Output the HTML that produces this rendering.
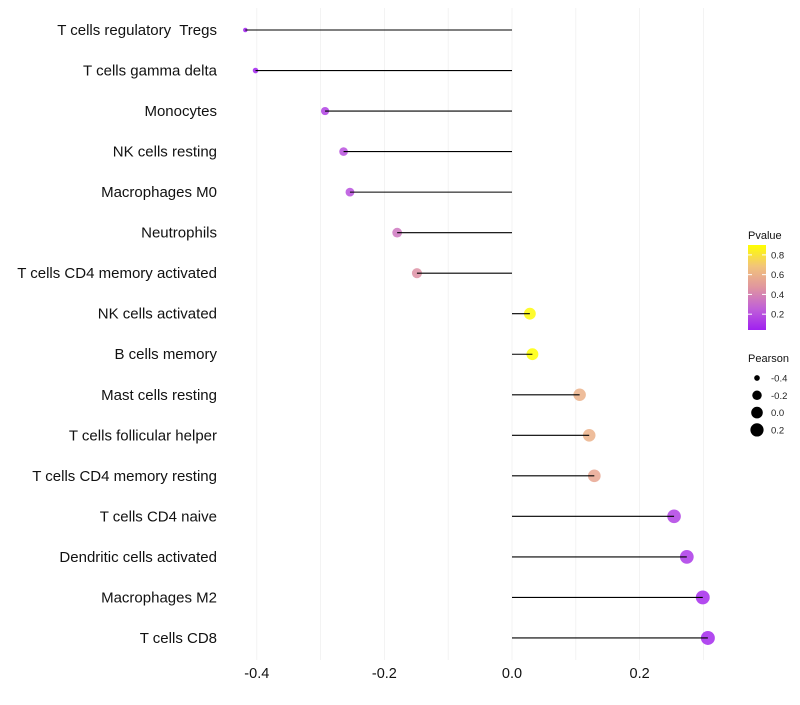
<!DOCTYPE html>
<html><head><meta charset="utf-8"><style>
body{margin:0;background:#fff;font-family:"Liberation Sans",sans-serif}
svg text{font-family:"Liberation Sans",sans-serif}
</style></head><body>
<svg id="chart" width="800" height="700" xmlns="http://www.w3.org/2000/svg">
<g id="grid"></g><g id="marks"></g><g id="labels"></g><g id="legend"></g>
</svg>
<script>
const categories=["T cells regulatory  Tregs","T cells gamma delta","Monocytes","NK cells resting","Macrophages M0","Neutrophils","T cells CD4 memory activated","NK cells activated","B cells memory","Mast cells resting","T cells follicular helper","T cells CD4 memory resting","T cells CD4 naive","Dendritic cells activated","Macrophages M2","T cells CD8"];
const pearson=[-0.418,-0.402,-0.293,-0.264,-0.254,-0.180,-0.149,0.028,0.032,0.106,0.121,0.129,0.254,0.274,0.299,0.307];
const pvalues=[0.04,0.05,0.15,0.2,0.2,0.35,0.45,0.88,0.9,0.6,0.6,0.55,0.15,0.12,0.08,0.07];
const xTicks=[-0.4,-0.2,0.0,0.2];
const xTickLabels=["-0.4","-0.2","0.0","0.2"];
const colorTicks=[0.2,0.4,0.6,0.8];
const sizeTicks=[-0.4,-0.2,0.0,0.2];

const NS="http://www.w3.org/2000/svg";
const x=v=>512+v*638;
const y=i=>30+i*40.53;
const pMin=0.04,pMax=0.9;
const stops=[[0,[160,32,240]],[0.25,[192,96,216]],[0.5,[224,149,159]],[0.75,[242,196,122]],[1,[255,255,0]]];
function col(p){let t=Math.max(0,Math.min(1,(p-pMin)/(pMax-pMin)));for(let k=1;k<stops.length;k++){if(t<=stops[k][0]){const a=stops[k-1],b=stops[k];const f=(t-a[0])/(b[0]-a[0]);const c=a[1].map((v,j)=>Math.round(v+(b[1][j]-v)*f));return `rgb(${c})`;}}return "rgb(255,255,0)";}
const sMin=-0.42,sMax=0.31;
function rad(v){const t=Math.max(0,(v-sMin)/(sMax-sMin));return 2+5*Math.sqrt(t);}
function el(tag,attrs,parent){const e=document.createElementNS(NS,tag);for(const k in attrs)e.setAttribute(k,attrs[k]);parent.appendChild(e);return e;}
const grid=document.getElementById('grid'),marks=document.getElementById('marks'),labels=document.getElementById('labels'),legend=document.getElementById('legend');
for(let v=-0.4;v<=0.31;v+=0.1){const g=el('line',{x1:x(v),x2:x(v),y1:8,y2:660,stroke:'#f0f0f0','stroke-width':0.8},grid);

}
xTicks.forEach((v,i)=>{const t=el('text',{x:x(v),y:678,'font-size':14.5,'text-anchor':'middle',fill:'#111'},labels);t.textContent=xTickLabels[i];

});
categories.forEach((c,i)=>{
const t=el('text',{x:217,y:y(i)+5,'font-size':15,'text-anchor':'end',fill:'#111'},labels);t.textContent=c;t.style.whiteSpace='pre';


const p=el('circle',{cx:x(pearson[i]),cy:y(i),r:rad(pearson[i]),fill:col(pvalues[i]),'fill-opacity':0.85},marks);


const s=el('line',{x1:x(0),x2:x(pearson[i]),y1:y(i),y2:y(i),stroke:'#000','stroke-width':1.1},marks);


});
const lt=el('text',{x:748,y:239,'font-size':11,fill:'#111'},legend);lt.textContent='Pvalue';


const defs=el('defs',{},legend);const lg=el('linearGradient',{id:'pg',x1:0,y1:1,x2:0,y2:0},defs);
stops.forEach(s=>el('stop',{offset:s[0],'stop-color':`rgb(${s[1]})`},lg));
const cb=el('rect',{x:748,y:245,width:18,height:85,fill:'url(#pg)'},legend);


const cy=p=>330-(p-pMin)/(pMax-pMin)*85;
colorTicks.forEach(p=>{el('line',{x1:748,x2:752,y1:cy(p),y2:cy(p),stroke:'#fff'},legend);el('line',{x1:762,x2:766,y1:cy(p),y2:cy(p),stroke:'#fff'},legend);
const t=el('text',{x:771,y:cy(p)+3.5,'font-size':9.5,fill:'#222'},legend);t.textContent=p.toFixed(1);

});
const st=el('text',{x:748,y:362,'font-size':11,fill:'#111'},legend);st.textContent='Pearson';


sizeTicks.forEach((v,i)=>{const yy=378+i*17.3;const c=el('circle',{cx:757,cy:yy,r:rad(v),fill:'#000'},legend);


const t=el('text',{x:771,y:yy+3.5,'font-size':9.5,fill:'#222'},legend);t.textContent=v.toFixed(1);

});
</script>
</body></html>
